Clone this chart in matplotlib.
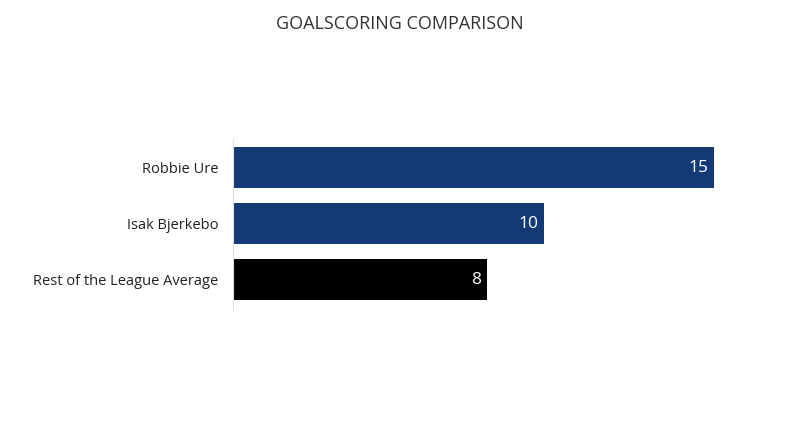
import matplotlib.pyplot as plt

# data
players = ['Robbie Ure', 'Isak Bjerkebo', 'Rest of the League Average']
goals = [15, 9.7, 7.9]
colors = ['#133a74', '#133a74', '#000000']

plt.rcParams['font.family'] = ['Open Sans', 'DejaVu Sans']

fig = plt.figure(figsize=(8, 4.47), dpi=100)
ax = fig.add_axes([0.2916, 0.3065, 0.6093, 0.3825])

y = range(len(players))
bars = ax.barh(y, goals, height=0.73, color=colors)

for rect, val in zip(bars, goals):
    ax.text(rect.get_width() - 0.18, rect.get_y() + rect.get_height() / 2,
            f'{val:.0f}', ha='right', va='center', color='white', fontsize=12.5)

ax.set_yticks(list(y))
ax.set_yticklabels(players, fontsize=10.5, color='#222222')
ax.tick_params(axis='y', length=0, pad=11)
ax.set_xticks([])
ax.set_xlim(0, 15.2)
ax.set_ylim(2.54, -0.514)

for s in ['top', 'right', 'bottom']:
    ax.spines[s].set_visible(False)
ax.spines['left'].set_color('#dddddd')

fig.text(0.5, 0.947, 'GOALSCORING COMPARISON', ha='center', va='center',
         fontsize=13, color='#333333')

fig.savefig('out.png', dpi=100)
